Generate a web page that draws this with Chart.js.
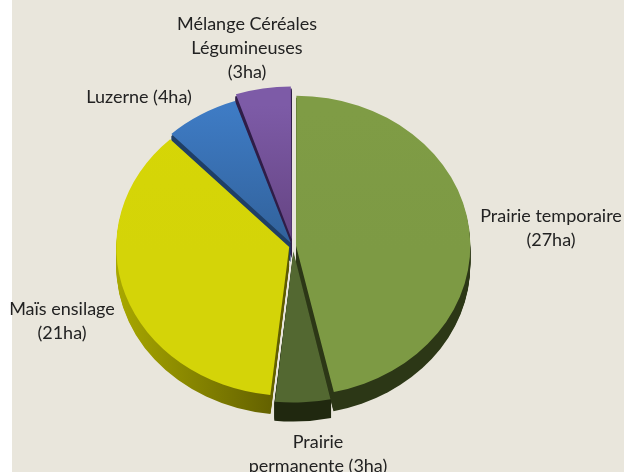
<!DOCTYPE html>
<html>
<head>
<meta charset="utf-8">
<style>
  html, body { margin: 0; padding: 0; background: #fff; }
  #wrap { position: relative; width: 624px; height: 472px; }
</style>
</head>
<body>
<div id="wrap"><canvas id="cultures" width="624" height="472"></canvas></div>
<script src="https://cdn.jsdelivr.net/npm/chart.js"></script>
<script>
  // Assolement, surfaces en hectares
  const categories = ["Prairie temporaire", "Prairie permanente", "Maïs ensilage", "Luzerne", "Mélange Céréales Légumineuses"];
  const surfaces = [27, 3, 21, 4, 3];
  const labelLines = [
    ["Prairie temporaire", "(27ha)"],
    ["Prairie", "permanente (3ha)"],
    ["Maïs ensilage", "(21ha)"],
    ["Luzerne (4ha)"],
    ["Mélange Céréales", "Légumineuses", "(3ha)"]
  ];

  // couleurs et mise en page
  const topColors = [["#7f9c45", "#7d9a44"], ["#5a7035", "#536831"], ["#d6d606", "#d4d408"], ["#3e7bc4", "#31619a"], ["#7d5ba7", "#654482"]];
  const sideColors = [["#3a4a1e", "#2c3716"], ["#20280f", "#20280f"], ["#a9a800", "#4a4700"], ["#1f3f66", "#1f3f66"], ["#2f1d47", "#2f1d47"]];
  const offsets = [12, 24, 16, 16, 32];
  const labelX = [551, 318, 62, 139, 247];
  const labelY = [216, 442, 309, 97, 24];
  const lineHeight = 24;
  const tilt = 0.86;
  const depth = 19;

  function gradient(ctx, pair, horizontal) {
    const g = horizontal ? ctx.createLinearGradient(116, 0, 330, 0) : ctx.createLinearGradient(0, 90, 0, 250);
    g.addColorStop(0, pair[0]);
    g.addColorStop(1, pair[1]);
    return g;
  }

  // fond beige, la marge gauche reste blanche
  const fond = {
    id: "fond",
    beforeDraw(chart) {
      chart.ctx.fillStyle = "#e9e6dc";
      chart.ctx.fillRect(12, 0, chart.width - 12, chart.height);
    }
  };

  // Pie "3D" : on écrase le cercle en ellipse et on extrude chaque part vers le bas
  const relief = {
    id: "relief",
    beforeDatasetDraw(chart) {
      const ctx = chart.ctx;
      const arcs = chart.getDatasetMeta(0).data;
      const cx = arcs[0].x, cy = arcs[0].y;
      ctx.save();
      [4, 3, 2, 0, 1].forEach(function (i) {
        const a = arcs[i];
        const mid = (a.startAngle + a.endAngle) / 2;
        // ArcElement.draw decale de offset/4 et agrandit aussi le rayon
        const shift = a.options.offset / 4;
        const r = a.outerRadius + shift * (1 - Math.sin(Math.min(Math.PI, a.circumference)));
        const x = cx + Math.cos(mid) * shift;
        const y = cy + Math.sin(mid) * shift;
        ctx.fillStyle = gradient(ctx, sideColors[i], i === 2);
        for (let d = depth; d >= 2; d--) {
          ctx.save();
          ctx.translate(0, cy + d);
          ctx.scale(1, tilt);
          ctx.translate(0, -cy);
          ctx.beginPath();
          ctx.moveTo(x, y);
          ctx.arc(x, y, r, a.startAngle, a.endAngle);
          ctx.closePath();
          ctx.fill();
          ctx.restore();
        }
      });
      ctx.translate(0, cy);
      ctx.scale(1, tilt);
      ctx.translate(0, -cy);
    },
    afterDatasetDraw(chart) {
      chart.ctx.restore();
    }
  };

  const etiquettes = {
    id: "etiquettes",
    afterDraw(chart) {
      const ctx = chart.ctx;
      ctx.save();
      ctx.font = "18px Lato";
      ctx.fillStyle = "#222";
      ctx.textAlign = "center";
      ctx.textBaseline = "middle";
      labelLines.forEach(function (lines, i) {
        lines.forEach(function (line, n) {
          ctx.fillText(line, labelX[i], labelY[i] + n * lineHeight);
        });
      });
      ctx.restore();
    }
  };

  const ctx = document.getElementById("cultures").getContext("2d");

  new Chart(ctx, {
    type: "pie",
    data: {
      labels: categories,
      datasets: [
        {
          data: surfaces,
          backgroundColor: topColors.map(function (p) { return gradient(ctx, p, false); }),
          borderWidth: 0,
          offset: offsets
        }
      ]
    },
    options: {
      responsive: false,
      animation: false,
      radius: 172,
      layout: { padding: { top: 20, right: 38, left: 0, bottom: 0 } },
      plugins: { legend: { display: false }, tooltip: { enabled: false } }
    },
    plugins: [fond, relief, etiquettes]
  });
</script>
</body>
</html>
